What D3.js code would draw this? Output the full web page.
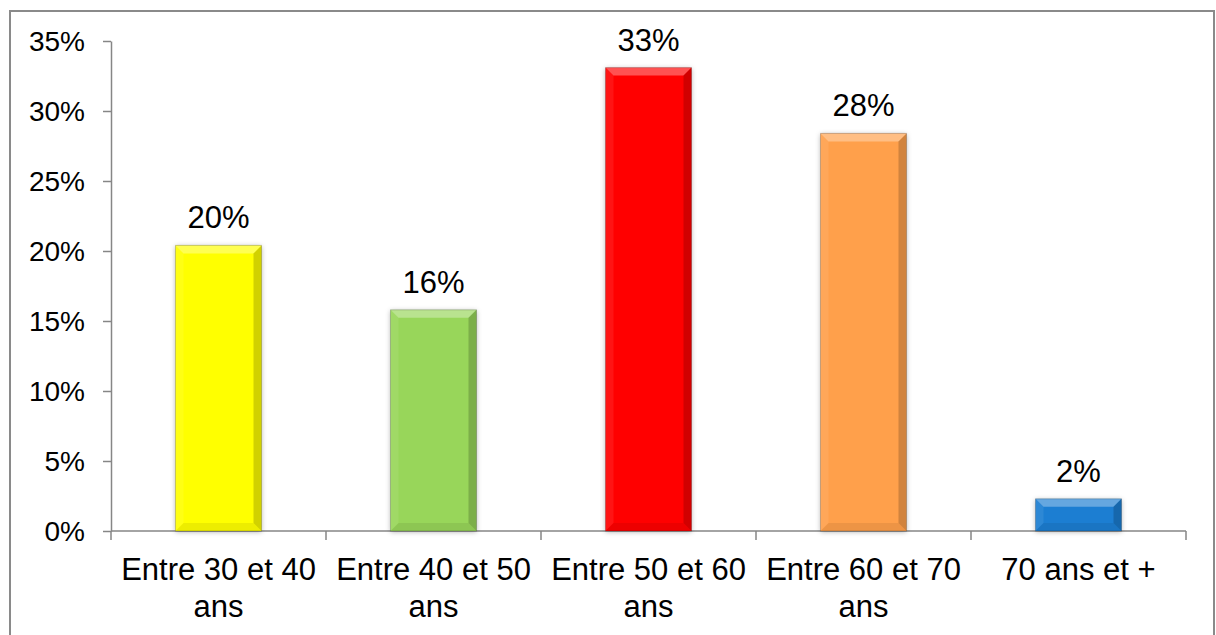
<!DOCTYPE html>
<html>
<head>
<meta charset="utf-8">
<script src="https://cdn.jsdelivr.net/npm/d3@7"></script>
<style>
  body { margin: 0; background: #fff; }
  text { font-family: "Liberation Sans", Arial, sans-serif; fill: #000; }
</style>
</head>
<body>
<div id="chart"></div>
<script>
// data
var categories = ["Entre 30 et 40\nans", "Entre 40 et 50\nans", "Entre 50 et 60\nans", "Entre 60 et 70\nans", "70 ans et +"];
var values = [0.204, 0.158, 0.331, 0.284, 0.023];
var barColors = ["#FFFF00", "#98D65A", "#FF0000", "#FFA04C", "#1A7ED2"];
var yTicks = [0, 0.05, 0.10, 0.15, 0.20, 0.25, 0.30, 0.35];

var svgWidth = 1216;
var svgHeight = 635;

var plot = { left: 111, right: 1186, top: 41, bottom: 531 };

var svg = d3.select("#chart")
  .append("svg")
  .attr("width", svgWidth)
  .attr("height", svgHeight);

// drop shadow for the bars
var defs = svg.append("defs");
var shadow = defs.append("filter")
  .attr("id", "shadow")
  .attr("x", "-20%").attr("y", "-20%")
  .attr("width", "140%").attr("height", "140%");
shadow.append("feDropShadow")
  .attr("dx", 0).attr("dy", 1)
  .attr("stdDeviation", 2.5)
  .attr("flood-color", "#000")
  .attr("flood-opacity", 0.3);

// outer frame
svg.append("rect")
  .attr("x", 10).attr("y", 11)
  .attr("width", 1204).attr("height", 632)
  .attr("fill", "none")
  .attr("stroke", "#8a8a8a")
  .attr("stroke-width", 2);

// scales
var x = d3.scaleBand()
  .domain(categories)
  .range([plot.left, plot.right])
  .padding(0);

var y = d3.scaleLinear()
  .domain([0, 0.35])
  .range([plot.bottom, plot.top]);

var barW = x.bandwidth() * 0.4;

// y axis
var yAxis = svg.append("g")
  .attr("transform", `translate(${plot.left},0)`)
  .call(d3.axisLeft(y).tickValues(yTicks).tickFormat(d3.format(".0%")).tickSize(8).tickSizeOuter(0));
yAxis.select(".domain").attr("stroke", "#868686").attr("stroke-width", 1.5);
yAxis.selectAll(".tick line").attr("stroke", "#868686").attr("stroke-width", 1.5);
yAxis.selectAll(".tick text")
  .attr("x", -26)
  .attr("dy", "0.34em")
  .style("font-size", "28px")
  .style("font-family", "'Liberation Sans', Arial, sans-serif")
  .attr("fill", "#000");

// x axis line and boundary ticks
var xg = svg.append("g");
xg.append("line")
  .attr("x1", plot.left).attr("x2", plot.right)
  .attr("y1", plot.bottom).attr("y2", plot.bottom)
  .attr("stroke", "#868686").attr("stroke-width", 1.5);

var bounds = categories.map(function(c) { return x(c); }).concat([plot.right]);
xg.selectAll("line.bt")
  .data(bounds)
  .enter()
  .append("line")
  .attr("class", "bt")
  .attr("x1", d => d).attr("x2", d => d)
  .attr("y1", plot.bottom).attr("y2", plot.bottom + 9)
  .attr("stroke", "#868686").attr("stroke-width", 1.5);

// category labels
var catLabels = xg.selectAll("text.cat")
  .data(categories)
  .enter()
  .append("text")
  .attr("class", "cat")
  .attr("text-anchor", "middle")
  .style("font-size", "31px");
catLabels.selectAll("tspan")
  .data(function(d) { return d.split("\n").map(function(t) { return { t: t, c: d }; }); })
  .enter()
  .append("tspan")
  .attr("x", d => x(d.c) + x.bandwidth() / 2)
  .attr("y", (d, i) => 580 + i * 37)
  .text(d => d.t);

// bars
var bev = 8;
var bars = svg.selectAll("g.bar")
  .data(values)
  .enter()
  .append("g")
  .attr("class", "bar");

bars.each(function(v, i) {
  var g = d3.select(this);
  var x0 = x(categories[i]) + (x.bandwidth() - barW) / 2;
  var x1 = x0 + barW;
  var y0 = y(v);
  var y1 = y(0);
  var b = Math.min(bev, (y1 - y0) / 2);

  g.append("rect")
    .attr("x", x0).attr("y", y0)
    .attr("width", barW).attr("height", y1 - y0)
    .attr("fill", barColors[i])
    .attr("filter", "url(#shadow)");

  // bevel facets
  g.append("polygon")
    .attr("points", [[x0, y0], [x1, y0], [x1 - b, y0 + b], [x0 + b, y0 + b]].join(" "))
    .attr("fill", "#fff").attr("opacity", 0.32);
  g.append("polygon")
    .attr("points", [[x0, y0], [x0 + b, y0 + b], [x0 + b, y1 - b], [x0, y1]].join(" "))
    .attr("fill", "#fff").attr("opacity", 0.08);
  g.append("polygon")
    .attr("points", [[x1, y0], [x1, y1], [x1 - b, y1 - b], [x1 - b, y0 + b]].join(" "))
    .attr("fill", "#000").attr("opacity", 0.18);
  g.append("polygon")
    .attr("points", [[x0, y1], [x0 + b, y1 - b], [x1 - b, y1 - b], [x1, y1]].join(" "))
    .attr("fill", "#000").attr("opacity", 0.07);
  g.append("rect")
    .attr("x", x0).attr("y", y0)
    .attr("width", barW).attr("height", y1 - y0)
    .attr("fill", "none")
    .attr("stroke", "#000").attr("stroke-opacity", 0.2).attr("stroke-width", 1);
});

// value labels
svg.selectAll("text.val")
  .data(values)
  .enter()
  .append("text")
  .attr("class", "val")
  .attr("text-anchor", "middle")
  .style("font-size", "31px")
  .attr("x", (d, i) => x(categories[i]) + x.bandwidth() / 2)
  .attr("y", d => y(d) - 17)
  .text(d => d3.format(".0%")(d));
</script>
</body>
</html>
